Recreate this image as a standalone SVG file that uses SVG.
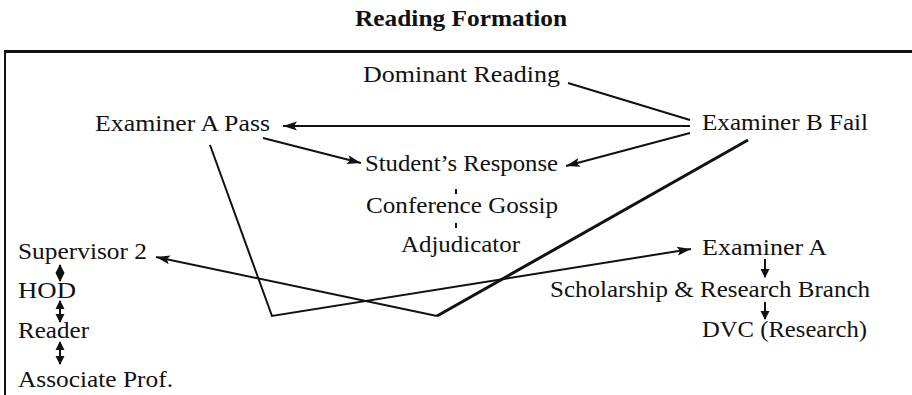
<svg xmlns="http://www.w3.org/2000/svg" width="912" height="395" viewBox="0 0 912 395">
<style>
  text { font-family: "Liberation Serif", "Times New Roman", serif; font-size: 23px; fill: #111; }
  .title { font-weight: bold; font-size: 23px; }
  .ln { stroke: #111; stroke-width: 2; fill: none; }
  .thick { stroke: #111; stroke-width: 3; fill: none; }
  .frame { stroke: #111; fill: none; }
</style>
<defs>
  <marker id="ah" markerUnits="userSpaceOnUse" markerWidth="16" markerHeight="10" refX="14" refY="5" orient="auto">
    <path d="M0,0.5 L14,5 L0,9.5 L3,5 z" fill="#111"/>
  </marker>
  <marker id="as" markerUnits="userSpaceOnUse" markerWidth="10" markerHeight="10" refX="8" refY="5" orient="auto-start-reverse">
    <path d="M0,0.5 L9,5 L0,9.5 z" fill="#111"/>
  </marker>
</defs>
<rect width="912" height="395" fill="#fff"/>
<text class="title" x="355" y="26" textLength="212" lengthAdjust="spacingAndGlyphs">Reading Formation</text>
<g id="frame">
  <line class="frame" x1="4" y1="51.5" x2="912" y2="51.5" stroke-width="3"/>
  <line class="frame" x1="5" y1="50" x2="5" y2="395" stroke-width="2"/>
</g>
<g id="connectors">
  <line class="ln" x1="568" y1="83" x2="690" y2="120" stroke-width="2.5"/>
  <line class="ln" x1="690" y1="126" x2="283" y2="126" marker-end="url(#ah)"/>
  <line class="ln" x1="263" y1="138" x2="361" y2="163" marker-end="url(#ah)"/>
  <line class="ln" x1="690" y1="133" x2="566" y2="166" marker-end="url(#ah)"/>
  <line class="ln" x1="456" y1="189" x2="456" y2="194"/>
  <line class="ln" x1="456" y1="223" x2="456" y2="228"/>
  <polyline class="ln" points="210,145 272,316 691,249" marker-end="url(#ah)"/>
  <line class="thick" x1="748" y1="140" x2="437" y2="316"/>
  <polyline class="ln" points="437,316 156,257" marker-end="url(#ah)"/>
  <line class="ln" x1="765" y1="259" x2="765" y2="277" marker-end="url(#as)"/>
  <line class="ln" x1="765" y1="302" x2="765" y2="319" marker-end="url(#as)"/>
  <line class="ln" x1="60" y1="265" x2="60" y2="281" marker-start="url(#as)" marker-end="url(#as)"/>
  <line class="ln" x1="60" y1="301" x2="60" y2="322" marker-start="url(#as)" marker-end="url(#as)"/>
  <line class="ln" x1="60" y1="342" x2="60" y2="364" marker-start="url(#as)" marker-end="url(#as)"/>
</g>
<g id="dominant-reading"><text x="363" y="82" textLength="197" lengthAdjust="spacingAndGlyphs">Dominant Reading</text></g>
<g id="examiner-a-pass"><text x="95" y="131" textLength="175" lengthAdjust="spacingAndGlyphs">Examiner A Pass</text></g>
<g id="examiner-b-fail"><text x="702" y="130" textLength="166" lengthAdjust="spacingAndGlyphs">Examiner B Fail</text></g>
<g id="students-response"><text x="365" y="171" textLength="193" lengthAdjust="spacingAndGlyphs">Student’s Response</text></g>
<g id="conference-gossip"><text x="366" y="213" textLength="192" lengthAdjust="spacingAndGlyphs">Conference Gossip</text></g>
<g id="adjudicator"><text x="401" y="252" textLength="119" lengthAdjust="spacingAndGlyphs">Adjudicator</text></g>
<g id="supervisor-2"><text x="18" y="259" textLength="129" lengthAdjust="spacingAndGlyphs">Supervisor 2</text></g>
<g id="hod"><text x="18" y="298" textLength="58" lengthAdjust="spacingAndGlyphs">HOD</text></g>
<g id="reader"><text x="18" y="338" textLength="71" lengthAdjust="spacingAndGlyphs">Reader</text></g>
<g id="associate-prof"><text x="18" y="387" textLength="155" lengthAdjust="spacingAndGlyphs">Associate Prof.</text></g>
<g id="examiner-a"><text x="702" y="255" textLength="125" lengthAdjust="spacingAndGlyphs">Examiner A</text></g>
<g id="scholarship"><text x="550" y="297" textLength="320" lengthAdjust="spacingAndGlyphs">Scholarship &amp; Research Branch</text></g>
<g id="dvc"><text x="702" y="337" textLength="165" lengthAdjust="spacingAndGlyphs">DVC (Research)</text></g>
</svg>
